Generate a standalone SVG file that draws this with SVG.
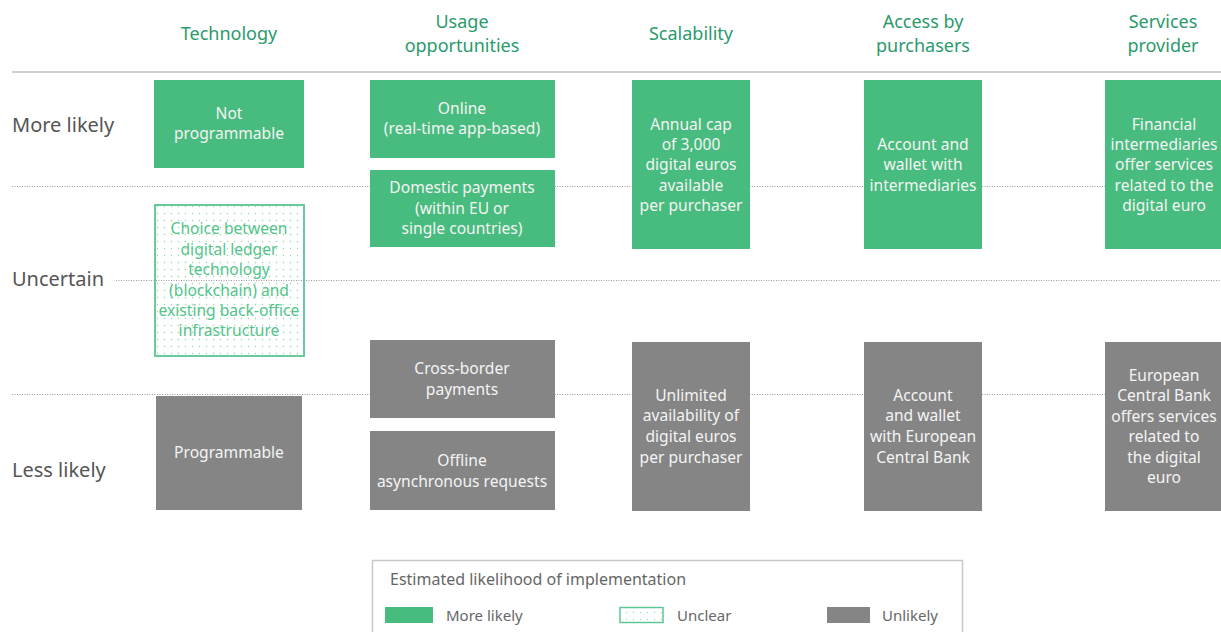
<svg xmlns="http://www.w3.org/2000/svg" width="1221" height="632" viewBox="0 0 1221 632">
<defs>
<pattern id="dots" width="7" height="7" patternUnits="userSpaceOnUse">
<circle cx="3.5" cy="3.5" r="0.7" fill="#9ed8b8"/>
</pattern>
<style>
.hdr{font-family:"Noto Sans","Open Sans",sans-serif;font-size:18px;fill:#2a9a6b;text-anchor:middle}
.row{font-family:"Noto Sans","Open Sans",sans-serif;font-size:20px;fill:#555}
.t{font-family:"Noto Sans","Open Sans",sans-serif;font-size:15.6px;fill:#f4f4f4;text-anchor:middle}
.tu{font-family:"Noto Sans","Open Sans",sans-serif;font-size:15.6px;fill:#52c48a;text-anchor:middle}
.g{fill:#48bb7e}
.x{fill:#858585}
.u{fill:url(#dots);stroke:#5fc695;stroke-width:1.5}
.dl{stroke:#9a9a9a;stroke-width:1;stroke-dasharray:1 1.5;fill:none}
.lg{font-family:"Noto Sans","Open Sans",sans-serif;font-size:15px;fill:#666}
</style>
</defs>
<rect width="1221" height="632" fill="#fff"/>
<g id="grid">
<line x1="12" y1="72" x2="1221" y2="72" stroke="#cfcfcf" stroke-width="2"/>
<line class="dl" x1="12" y1="186.5" x2="1221" y2="186.5"/>
<line class="dl" x1="116" y1="280.5" x2="1221" y2="280.5"/>
<line class="dl" x1="12" y1="394.5" x2="1221" y2="394.5"/>
</g>
<g id="headers">
<text class="hdr" x="229" y="40">Technology</text>
<text class="hdr" x="462" y="28">Usage</text>
<text class="hdr" x="462" y="52">opportunities</text>
<text class="hdr" x="691" y="40">Scalability</text>
<text class="hdr" x="923" y="28">Access by</text>
<text class="hdr" x="923" y="52">purchasers</text>
<text class="hdr" x="1163" y="28">Services</text>
<text class="hdr" x="1163" y="52">provider</text>
</g>
<g id="rows">
<text class="row" x="12" y="132">More likely</text>
<text class="row" x="12" y="286">Uncertain</text>
<text class="row" x="12" y="477">Less likely</text>
</g>
<g id="not-programmable">
<rect class="g" x="154" y="80" width="150" height="88"/>
<text class="t" x="229" y="119">Not</text>
<text class="t" x="229" y="139">programmable</text>
</g>
<g id="online">
<rect class="g" x="370" y="80" width="185" height="78"/>
<text class="t" x="462" y="114">Online</text>
<text class="t" x="462" y="134">(real-time app-based)</text>
</g>
<g id="domestic">
<rect class="g" x="370" y="170" width="185" height="77"/>
<text class="t" x="462" y="193">Domestic payments</text>
<text class="t" x="462" y="214">(within EU or</text>
<text class="t" x="462" y="234">single countries)</text>
</g>
<g id="choice">
<rect class="u" x="155" y="205" width="149" height="151" fill="#fff"/>
<rect class="u" x="155" y="205" width="149" height="151"/>
<text class="tu" x="229" y="234">Choice between</text>
<text class="tu" x="229" y="255">digital ledger</text>
<text class="tu" x="229" y="275">technology</text>
<text class="tu" x="229" y="296">(blockchain) and</text>
<text class="tu" x="229" y="316">existing back-office</text>
<text class="tu" x="229" y="336">infrastructure</text>
</g>
<g id="programmable">
<rect class="x" x="156" y="396" width="146" height="114"/>
<text class="t" x="229" y="458">Programmable</text>
</g>
<g id="cross-border">
<rect class="x" x="370" y="340" width="185" height="78"/>
<text class="t" x="462" y="374">Cross-border</text>
<text class="t" x="462" y="395">payments</text>
</g>
<g id="offline">
<rect class="x" x="370" y="431" width="185" height="79"/>
<text class="t" x="462" y="466">Offline</text>
<text class="t" x="462" y="487">asynchronous requests</text>
</g>
<g id="annual-cap">
<rect class="g" x="632" y="80" width="118" height="169"/>
<text class="t" x="691" y="130">Annual cap</text>
<text class="t" x="691" y="150">of 3,000</text>
<text class="t" x="691" y="170">digital euros</text>
<text class="t" x="691" y="191">available</text>
<text class="t" x="691" y="211">per purchaser</text>
</g>
<g id="unlimited">
<rect class="x" x="632" y="342" width="118" height="169"/>
<text class="t" x="691" y="401">Unlimited</text>
<text class="t" x="691" y="421">availability of</text>
<text class="t" x="691" y="442">digital euros</text>
<text class="t" x="691" y="463">per purchaser</text>
</g>
<g id="account-intermediaries">
<rect class="g" x="864" y="80" width="118" height="169"/>
<text class="t" x="923" y="150">Account and</text>
<text class="t" x="923" y="170">wallet with</text>
<text class="t" x="923" y="191">intermediaries</text>
</g>
<g id="account-ecb">
<rect class="x" x="864" y="342" width="118" height="169"/>
<text class="t" x="923" y="401">Account</text>
<text class="t" x="923" y="421">and wallet</text>
<text class="t" x="923" y="442">with European</text>
<text class="t" x="923" y="463">Central Bank</text>
</g>
<g id="financial-intermediaries">
<rect class="g" x="1105" y="80" width="120" height="169"/>
<text class="t" x="1164" y="130">Financial</text>
<text class="t" x="1164" y="150">intermediaries</text>
<text class="t" x="1164" y="170">offer services</text>
<text class="t" x="1164" y="191">related to the</text>
<text class="t" x="1164" y="211">digital euro</text>
</g>
<g id="ecb-services">
<rect class="x" x="1105" y="342" width="120" height="169"/>
<text class="t" x="1164" y="381">European</text>
<text class="t" x="1164" y="401">Central Bank</text>
<text class="t" x="1164" y="422">offers services</text>
<text class="t" x="1164" y="442">related to</text>
<text class="t" x="1164" y="463">the digital</text>
<text class="t" x="1164" y="483">euro</text>
</g>
<g id="legend">
<rect x="372.5" y="560.5" width="590" height="80" fill="none" stroke="#c8c8c8" stroke-width="1.5"/>
<text class="lg" x="390" y="585" style="font-size:16px">Estimated likelihood of implementation</text>
<rect class="g" x="385" y="607" width="48" height="16"/>
<text class="lg" x="446" y="621">More likely</text>
<rect class="u" x="620" y="607.5" width="43" height="15" stroke-width="1"/>
<text class="lg" x="677" y="621">Unclear</text>
<rect class="x" x="827" y="607" width="43" height="16"/>
<text class="lg" x="882" y="621">Unlikely</text>
</g>
</svg>
